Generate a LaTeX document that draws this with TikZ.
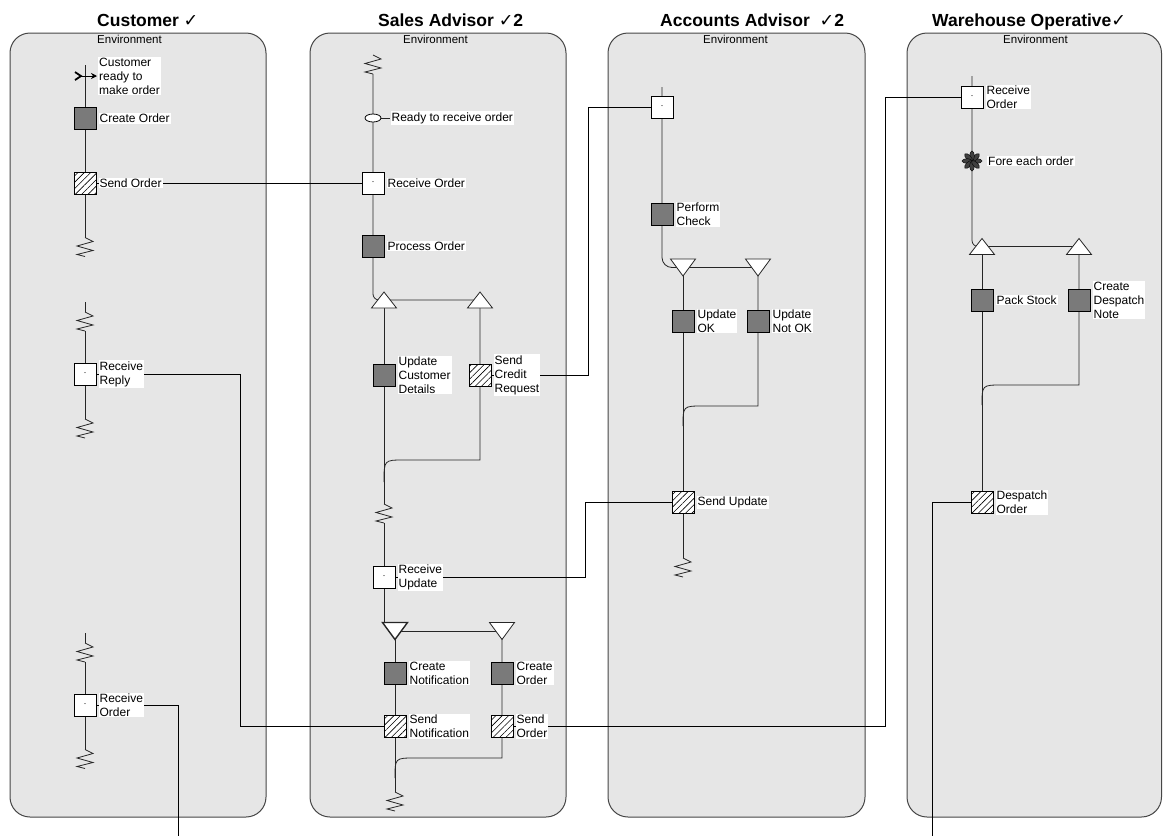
\documentclass[tikz,border=0pt]{standalone}
\usepackage{fontspec}
\setmainfont{Liberation Sans}
\newfontfamily\tickfont{DejaVu Sans}
\usepackage{tikz}
\usetikzlibrary{positioning,shapes.geometric,arrows.meta,patterns.meta}
\usepackage{xcolor}
\definecolor{lanefill}{RGB}{230,230,230}
\definecolor{laneline}{RGB}{70,70,70}
\definecolor{taskfill}{RGB}{122,122,122}
\newcommand{\tick}{{\tickfont ✓}}
\pgfdeclarelayer{lanes}
\pgfdeclarelayer{lines}
\pgfsetlayers{lanes,lines,main}

\begin{document}
\begin{tikzpicture}[x=1pt,y=-1pt,
    lane/.style={draw=laneline,fill=lanefill,line width=1pt,rounded corners=20pt},
    title/.style={font=\fontsize{17.5}{20}\selectfont\bfseries,anchor=base west,inner sep=0pt},
    env/.style={font=\fontsize{11.5}{13}\selectfont,anchor=base west,inner sep=0pt},
    task/.style={draw,line width=0.8pt,fill=taskfill,minimum size=22pt,inner sep=0pt},
    recv/.style={draw,line width=0.8pt,fill=white,minimum size=22pt,inner sep=0pt,
        font=\fontsize{9}{9}\selectfont},
    send/.style={draw,line width=0.8pt,preaction={fill=white},
        pattern={Lines[angle=45,distance=4.5pt,line width=0.6pt]},minimum size=22pt,inner sep=0pt},
    lbl/.style={fill=white,font=\fontsize{12}{14}\selectfont,inner sep=1pt,align=left},
    flow/.style={line width=0.8pt,black!85},
    msg/.style={line width=0.8pt,black},
    zz/.pic={\draw[flow] (0,-9.5) coordinate (-top) -- (8,-5.5) -- (-8,-1) -- (8,3.5)
        -- (-8,7.5) -- (0,9.5) coordinate (-bot);},
    forkup/.pic={\draw[flow,fill=white] (-12.5,8) -- (0,-8) -- (12.5,8) -- cycle;},
    forkdown/.pic={\draw[flow,fill=white] (-12.5,-8.5) -- (0,8.5) -- (12.5,-8.5) -- cycle;}
    ]

    \begin{pgfonlayer}{lanes}
    \draw[lane] (10,33) rectangle (266,817);
    \draw[lane] (310,33) rectangle (566,817);
    \draw[lane] (608,33) rectangle (865,817);
    \draw[lane] (907,33) rectangle (1161.5,817);
    \end{pgfonlayer}
    \useasboundingbox (0,0) rectangle (1163,836);

    \node[title] (tcust) at (97,26) {Customer \tick};
    \node[title] (tsales) at (378,26) {Sales Advisor \tick2};
    \node[title] (tacc) at (660,26) {Accounts Advisor \ \tick2};
    \node[title] (tware) at (932,26) {Warehouse Operative\tick};
    \node[env] (ecust) at (97,43) {Environment};
    \node[env] (esales) at (403,43) {Environment};
    \node[env] (eacc) at (703,43) {Environment};
    \node[env] (eware) at (1003,43) {Environment};

    \coordinate (cst) at (85,76);
    \coordinate (c1top) at (85,65);
    \coordinate (c2top) at (85,302);
    \coordinate (c3top) at (85,633);
    \coordinate (cout) at (178,836);
    \coordinate (sf1) at (384,300);
    \coordinate (sf2) at (480,300);
    \coordinate (sf3) at (395,631);
    \coordinate (sf4) at (502,631);
    \coordinate (atop) at (662,87);
    \coordinate (af1) at (683,267.5);
    \coordinate (af2) at (758,267.5);
    \coordinate (wtop) at (972,76);
    \coordinate (wfe) at (972,161);
    \coordinate (wf1) at (982,246.5);
    \coordinate (wf2) at (1079,246.5);
    \coordinate (wout) at (932,836);

    % customer
    \pic (cz1) at (85,247) {zz};
    \pic (cz2) at (85,321.5) {zz};
    \pic (cz3) at (85,428.5) {zz};
    \pic (cz4) at (85,652.5) {zz};
    \pic (cz5) at (85,759) {zz};
    \draw[line width=1.8pt] ([shift={(-10,-4)}]cst) -- ([shift={(-4,0)}]cst) -- ([shift={(-10,4)}]cst);
    \draw[-{Stealth[length=6pt,width=6pt]},line width=0.9pt] ([xshift=-6pt]cst) -- ([xshift=12pt]cst);
    \node[task] (cco) at (85,118.5) {};
    \node[send] (cso) at (85,183) {};
    \node[recv] (crr) at (85,374) {·};
    \node[recv] (cro) at (85,705) {·};

    % sales advisor
    \pic (sz1) at (373,64.5) {zz};
    \pic (sz2) at (384,513.5) {zz};
    \pic (sz3) at (395,801.5) {zz};
    \node[draw,ellipse,fill=white,line width=0.8pt,minimum width=16pt,minimum height=8pt,
        inner sep=0pt] (sready) at (373,118) {};
    \node[recv] (sro) at (373,183) {·};
    \node[task] (spo) at (373,246) {};
    \pic at (sf1) {forkup};
    \pic at (sf2) {forkup};
    \node[task] (sucd) at (384,375) {};
    \node[send] (sscr) at (480,375) {};
    \node[recv] (sru) at (384,577.5) {·};
    \pic[flow/.append style={line width=1.4pt}] at (sf3) {forkdown};
    \pic at (sf4) {forkdown};
    \node[task] (scn) at (395,673) {};
    \node[task] (sco) at (502,673) {};
    \node[send] (ssn) at (395,726.5) {};
    \node[send] (sso) at (502,726.5) {};

    % accounts advisor
    \pic (az1) at (683,567.5) {zz};
    \node[recv] (arc) at (662,107.5) {·};
    \node[task] (apc) at (662,214.5) {};
    \pic at (af1) {forkdown};
    \pic at (af2) {forkdown};
    \node[task] (auok) at (683,321) {};
    \node[task] (aunok) at (758,321) {};
    \node[send] (asu) at (683,502.5) {};

    % warehouse operative
    \node[recv] (wro) at (972,97) {·};
    \begin{scope}[shift={(wfe)}]
        \foreach \a in {0,45,...,315}
            \filldraw[fill=black!75,draw=black,line width=0.4pt,rotate=\a] (5,0) ellipse (5 and 2.4);
    \end{scope}
    \pic at (wf1) {forkup};
    \pic at (wf2) {forkup};
    \node[task] (wps) at (982,300) {};
    \node[task] (wcdn) at (1079,300) {};
    \node[send] (wdo) at (982,502.5) {};

    % labels
    \node[lbl,right=13pt of cst] (lcst) {Customer\\ready to\\make order};
    \node[lbl,right=2pt of cco] (lcco) {Create Order};
    \node[lbl,right=2pt of cso] (lcso) {Send Order};
    \node[lbl,right=2pt of crr] (lcrr) {Receive\\Reply};
    \node[lbl,right=2pt of cro] (lcro) {Receive\\Order};
    \node[lbl,right=9pt of sready] (lsready) {Ready to receive order};
    \node[lbl,right=2pt of sro] (lsro) {Receive Order};
    \node[lbl,right=2pt of spo] (lspo) {Process Order};
    \node[lbl,right=2pt of sucd] (lsucd) {Update\\Customer\\Details};
    \node[lbl,right=2pt of sscr] (lsscr) {Send\\Credit\\Request};
    \node[lbl,right=2pt of sru] (lsru) {Receive\\Update};
    \node[lbl,right=2pt of scn] (lscn) {Create\\Notification};
    \node[lbl,right=2pt of sco] (lsco) {Create\\Order};
    \node[lbl,right=2pt of ssn] (lssn) {Send\\Notification};
    \node[lbl,right=2pt of sso] (lsso) {Send\\Order};
    \node[lbl,right=2pt of apc] (lapc) {Perform\\Check};
    \node[lbl,right=2pt of auok] (lauok) {Update\\OK};
    \node[lbl,right=2pt of aunok] (launok) {Update\\Not OK};
    \node[lbl,right=2pt of asu] (lasu) {Send Update};
    \node[lbl,right=2pt of wro] (lwro) {Receive\\Order};
    \node[lbl,right=15pt of wfe] (lwfe) {Fore each order};
    \node[lbl,right=2pt of wps] (lwps) {Pack Stock};
    \node[lbl,right=2pt of wcdn] (lwcdn) {Create\\Despatch\\Note};
    \node[lbl,right=2pt of wdo] (lwdo) {Despatch\\Order};

    \begin{pgfonlayer}{lines}
    \draw[flow] (c1top) -- (cz1-top);
    \draw[flow] (c2top) -- (cz2-top) (cz2-bot) -- (cz3-top);
    \draw[flow] (c3top) -- (cz4-top) (cz4-bot) -- (cz5-top);
    \draw[flow,rounded corners=6pt] (sz1-bot) |- (sf2);
    \draw[flow] (sf1) -- (sz2-top);
    \draw[flow] (sf2) |- (404,460) .. controls (384,460) .. (384,482);
    \draw[flow] (sz2-bot) -- (384,623);
    \draw[flow] (sf3) -- (sf4);
    \draw[flow] (sf3) -- (sz3-top);
    \draw[flow] (sf4) |- (415,758) .. controls (395,758) .. (395,778);
    \draw[flow] (sready) -- (lsready);
    \draw[flow,rounded corners=10pt] (atop) |- (af2);
    \draw[flow] (af1) -- (az1-top);
    \draw[flow] (af2) |- (703,406) .. controls (683,406) .. (683,426);
    \draw[flow,rounded corners=6pt] (wtop) |- (wf2);
    \draw[flow] (wf1) -- (wdo);
    \draw[flow] (wf2) |- (1002,385) .. controls (982,385) .. (982,405);
    % messages between lanes
    \draw[msg] (cso) -- (sro);
    \draw[msg] (sscr) -- ++(108,0) |- (arc);
    \draw[msg] (crr) -- ++(155,0) |- (ssn);
    \draw[msg] (sru) -- ++(201,0) |- (asu);
    \draw[msg] (sso) -- ++(383,0) |- (wro);
    \draw[msg] (cro) -| (cout);
    \draw[msg] (wdo) -| (wout);
    \end{pgfonlayer}

\end{tikzpicture}
\end{document}
